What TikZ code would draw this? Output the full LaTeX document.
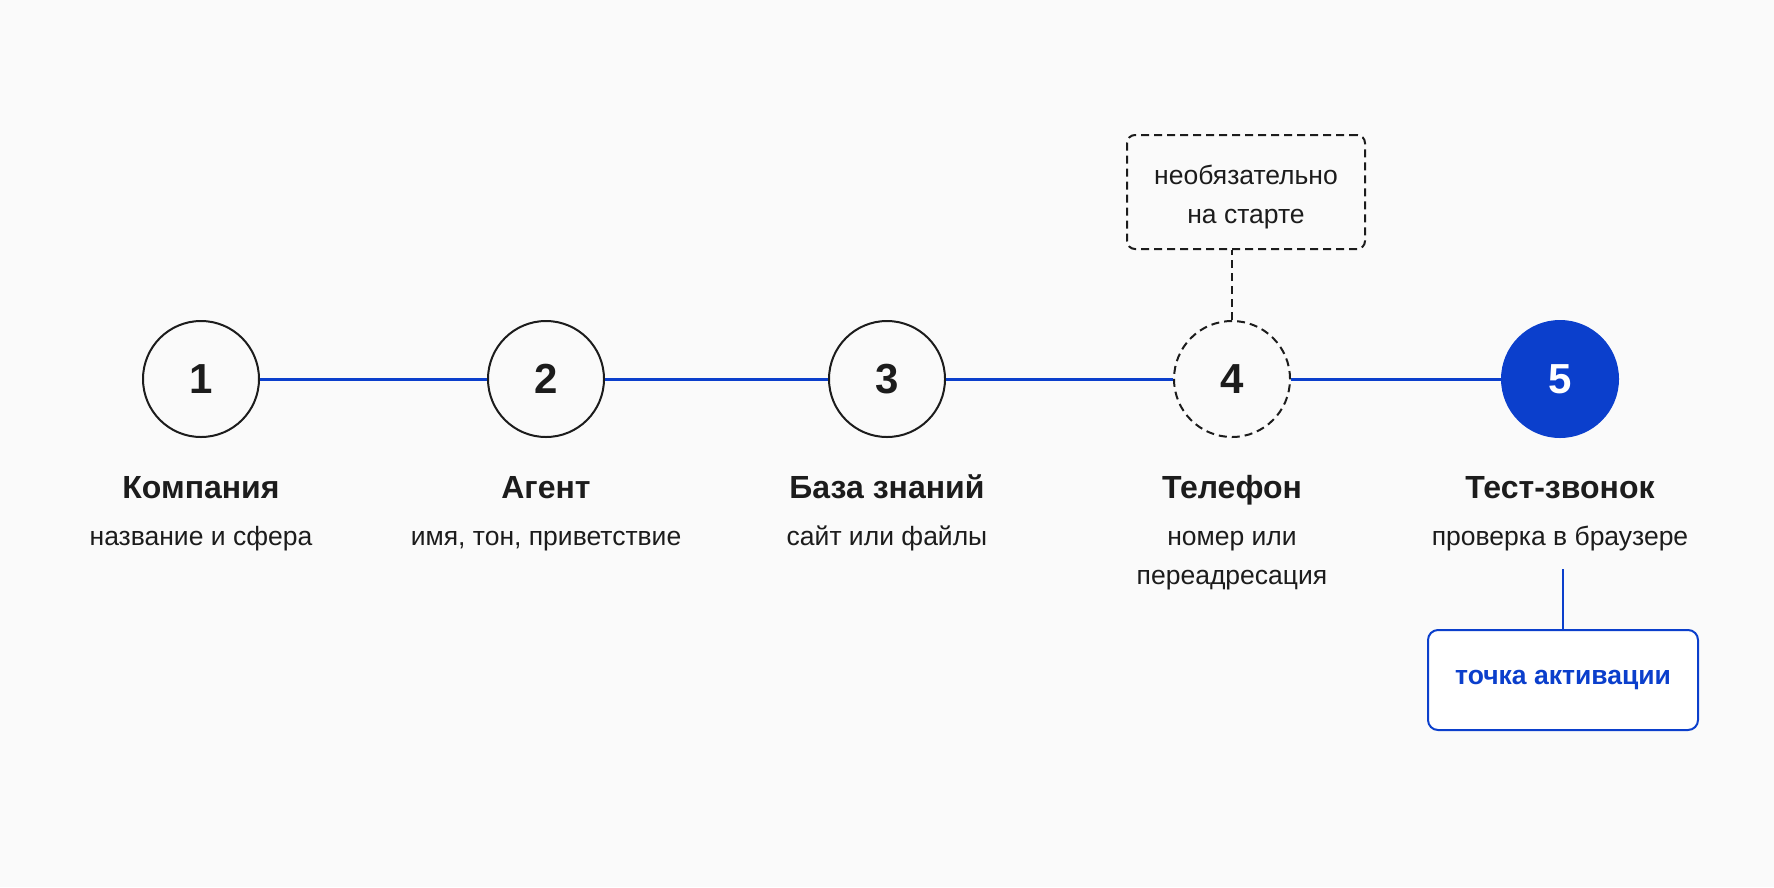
\documentclass[tikz,border=0pt]{standalone}
\usepackage{fontspec}
\setmainfont{Liberation Sans}
\definecolor{accent}{HTML}{0B3FCC}
\definecolor{ink}{HTML}{1C1C1C}
\definecolor{bg}{HTML}{FAFAFA}
\begin{document}
\begin{tikzpicture}[x=1pt,y=-1pt,
  stepcircle/.style={circle, draw=ink, line width=2pt, minimum size=116pt, inner sep=0pt,
    font=\fontsize{42}{42}\selectfont\bfseries, text=ink, fill=bg},
  optcircle/.style={stepcircle, dash pattern=on 8pt off 5pt},
  donecircle/.style={stepcircle, draw=accent, fill=accent, text=white},
  steptitle/.style={anchor=base, inner sep=0pt, font=\fontsize{32}{38}\selectfont\bfseries, text=ink},
  stepsub/.style={anchor=base, inner sep=0pt, align=center, font=\fontsize{26.5}{39}\selectfont, text=ink},
  link/.style={draw=accent, line width=3pt},
  optline/.style={draw=ink, line width=2pt, dash pattern=on 8pt off 5pt},
  optbox/.style={rectangle, rounded corners=8pt, optline, minimum width=238pt, minimum height=114pt,
    align=center, font=\fontsize{26.5}{39}\selectfont, text=ink, fill=bg},
  actbox/.style={rectangle, rounded corners=10pt, draw=accent, line width=2pt, fill=white,
    minimum width=270pt, minimum height=100pt, text=accent, font=\fontsize{26.5}{32}\selectfont\bfseries}
]
\path[use as bounding box, fill=bg] (0,0) rectangle (1774,887);

\node[stepcircle] (c1) at (201,379) {1};
\node[stepcircle] (c2) at (546,379) {2};
\node[stepcircle] (c3) at (887,379) {3};
\node[optcircle] (c4) at (1232,379) {4};
\node[donecircle] (c5) at (1560,379) {5};

\draw[link] (c1) -- (c2);
\draw[link] (c2) -- (c3);
\draw[link] (c3) -- (c4);
\draw[link] (c4) -- (c5);

\node[steptitle] (t1) at (201,498) {Компания};
\node[steptitle] (t2) at (546,498) {Агент};
\node[steptitle] (t3) at (887,498) {База знаний};
\node[steptitle] (t4) at (1232,498) {Телефон};
\node[steptitle] (t5) at (1560,498) {Тест-звонок};

\node[stepsub] (s1) at (201,545) {название и сфера};
\node[stepsub] (s2) at (546,545) {имя, тон, приветствие};
\node[stepsub] (s3) at (887,545) {сайт или файлы};
\node[stepsub] (s4) at (1232,584) {номер или\\переадресация};
\node[stepsub] (s5) at (1560,545) {проверка в браузере};

\node[optbox] (opt) at (1246,192) {\rule{0pt}{29pt}необязательно\\на старте};
\draw[optline] (c4.north) -- (c4.north |- opt.south);

\node[actbox] (act) at (1563,680) {точка активации};
\coordinate (actTop) at (1563,569);
\draw[link, line width=2.5pt] (actTop) -- (act.north);
\end{tikzpicture}
\end{document}
